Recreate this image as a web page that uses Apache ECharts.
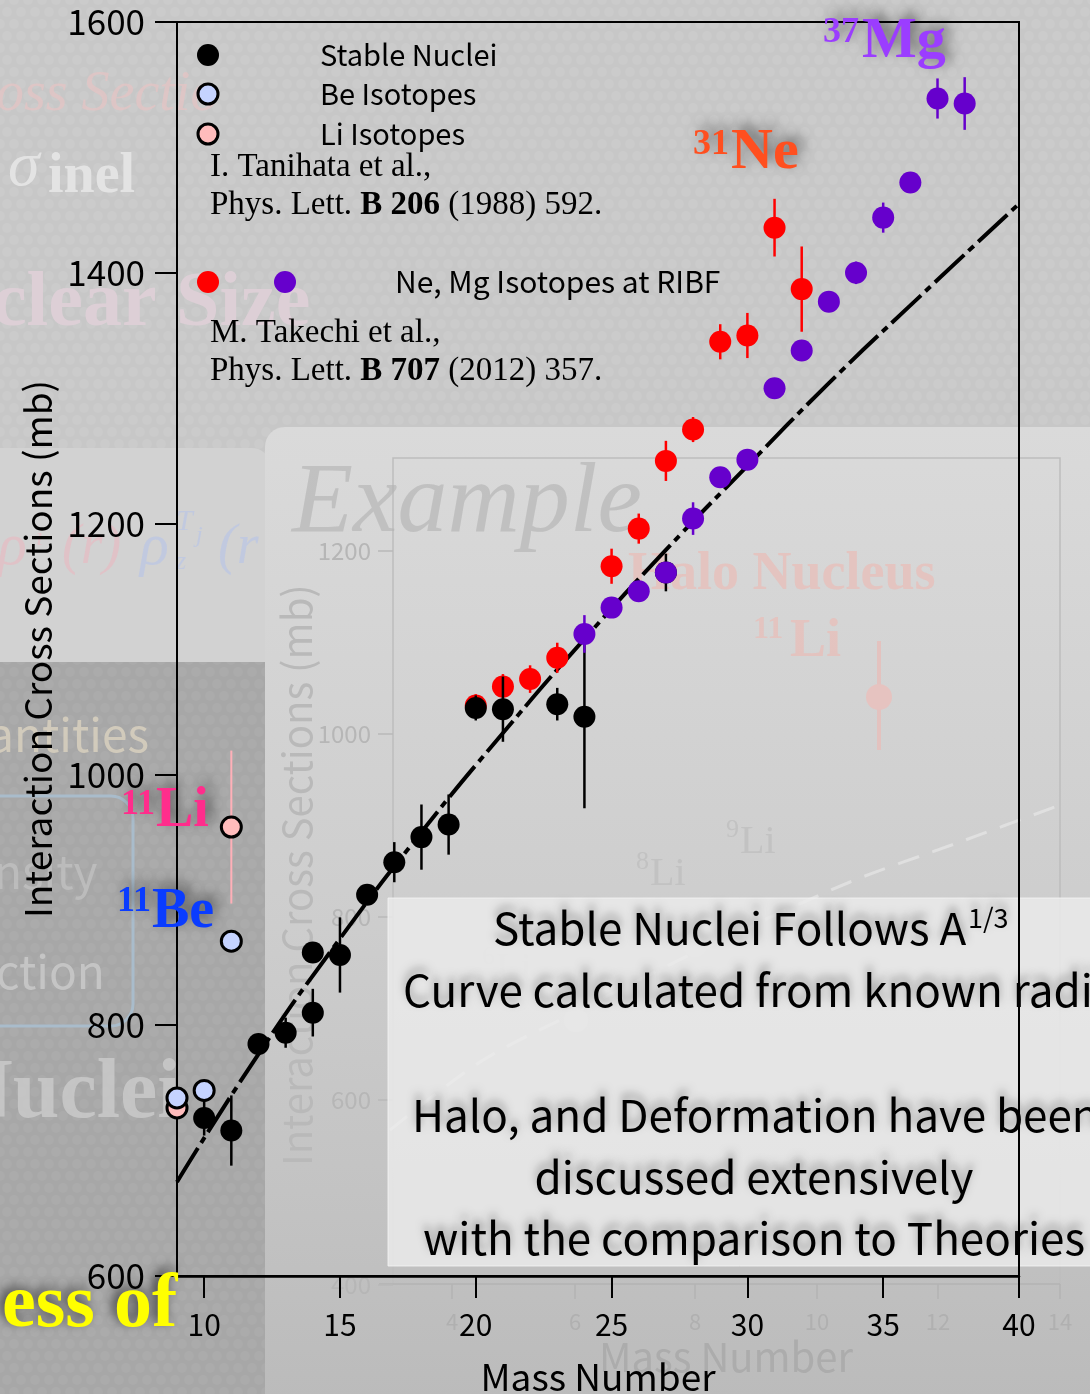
<!DOCTYPE html>
<html><head><meta charset="utf-8">
<script src="https://cdn.jsdelivr.net/npm/echarts@6/dist/echarts.min.js"></script>
<style>html,body{margin:0;padding:0;background:#c8c8c8}#c{width:1090px;height:1394px}</style>
</head><body><div id="c"></div>
<script>
// ---------- data ----------
const stableA = [10, 11, 12, 13, 14, 14, 15, 16, 17, 18, 19, 20, 21, 23, 24, 27];
const stableV = [726, 716, 785, 794, 810, 858, 856, 904, 930, 950, 960, 1053, 1052, 1056, 1046, 1161];
const stableE = [14, 28, 0, 12, 19, 8, 30, 0, 16, 26, 24, 10, 26, 13, 73, 15];
const beA = [9, 10, 11];
const beV = [742, 748, 867];
const liA = [9, 11];
const liV = [734, 958];
const liE = [0, 61];
const neA = [20, 21, 22, 23, 25, 26, 27, 28, 29, 30, 31, 32];
const neV = [1055, 1070, 1076, 1093, 1166, 1196, 1250, 1275, 1345, 1350, 1436, 1387];
const neE = [9, 10, 11, 12, 14, 12, 16, 10, 14, 18, 23, 34];
const mgA = [24, 25, 26, 27, 28, 29, 30, 31, 32, 33, 34, 35, 36, 37, 38];
const mgV = [1112, 1133, 1146, 1161, 1204, 1237, 1251, 1308, 1338, 1377, 1400, 1444, 1472, 1539, 1535];
const mgE = [15, 0, 0, 0, 13, 0, 7, 0, 0, 0, 9, 12, 0, 16, 21];
const curveA = [9, 12, 15, 18, 21, 24, 27, 30, 33, 36, 40];
const curveV = [675, 777, 869, 954, 1033, 1108, 1179, 1246, 1312, 1374, 1455];
const xTickLabels = [10, 15, 20, 25, 30, 35, 40];
const yTickLabels = [600, 800, 1000, 1200, 1400, 1600];

const SANS = "'Noto Sans CJK JP', 'Noto Sans', sans-serif";
const SERIF = "'Liberation Serif', 'DejaVu Serif', serif";

function pat(bg, dot) {
  const c = document.createElement('canvas'); c.width = 14; c.height = 24;
  const g = c.getContext('2d'); g.fillStyle = bg; g.fillRect(0, 0, 14, 24);
  g.fillStyle = dot;
  [[0,0],[14,0],[7,12],[0,24],[14,24]].forEach(([x,y]) => { g.beginPath(); g.arc(x, y, 5, 0, Math.PI*2); g.fill(); });
  return c;
}

function errSeries(A, V, E, color, w, z) {
  const data = [];
  A.forEach((a, i) => { if (E[i] > 0) data.push([a, V[i] - E[i], V[i] + E[i]]); });
  return {
    type: 'custom', z: z, silent: true, data: data, encode: { x: 0, y: [1, 2] },
    renderItem: function (params, api) {
      const p1 = api.coord([api.value(0), api.value(1)]);
      const p2 = api.coord([api.value(0), api.value(2)]);
      return { type: 'line', shape: { x1: p1[0], y1: p1[1], x2: p2[0], y2: p2[1] }, style: { stroke: color, lineWidth: w } };
    }
  };
}
function sc(A, V, size, color, border, z) {
  return {
    type: 'scatter', z: z, silent: true, data: A.map((a, i) => [a, V[i]]), symbolSize: size,
    itemStyle: { color: color, borderColor: border || color, borderWidth: border ? 3 : 0, opacity: 1 },
    emphasis: { disabled: true }
  };
}
function T(x, y, text, font, color, extra) {
  return Object.assign({ type: 'text', z: 50, silent: true,
    style: Object.assign({ x: x, y: y, text: text, font: font, fill: color, verticalAlign: 'middle', align: 'left' }, extra || {}) });
}
const shadow = { textShadowColor: 'rgba(0,0,0,0.55)', textShadowBlur: 14, textShadowOffsetX: 5, textShadowOffsetY: -5 };
const boxShadow = { textShadowColor: 'rgba(0,0,0,0.35)', textShadowBlur: 8, textShadowOffsetX: 0, textShadowOffsetY: -6 };

const bgEls = [
  { type: 'rect', z: -20, silent: true, shape: { x: 0, y: 0, width: 1090, height: 1394 }, style: { fill: { image: pat('#c7c7c7', '#cbcbcb'), repeat: 'repeat' } } },
  { type: 'rect', z: -19, silent: true, shape: { x: -20, y: 448, width: 290, height: 214, r: [0, 18, 0, 0] }, style: { fill: '#d2d2d2' } },
  { type: 'rect', z: -19, silent: true, shape: { x: 0, y: 662, width: 266, height: 732 }, style: { fill: { image: pat('#a7a7a7', '#ababab'), repeat: 'repeat' } } },
  { type: 'rect', z: -18, silent: true, shape: { x: 265, y: 427, width: 860, height: 1000, r: [20, 0, 0, 0] },
    style: { fill: new echarts.graphic.LinearGradient(0, 0, 0, 1, [{ offset: 0, color: '#dadada' }, { offset: 0.5, color: '#cdcdcd' }, { offset: 1, color: '#bababa' }]) } },
  // inner faded chart frame
  { type: 'polyline', z: -17, silent: true, shape: { points: [[393, 1285], [393, 458], [1060, 458], [1060, 1285]] }, style: { stroke: '#bdbdbd', lineWidth: 1.5, fill: null } },
  { type: 'line', z: -17, silent: true, shape: { x1: 379, y1: 1284, x2: 1060, y2: 1284 }, style: { stroke: '#b3b3b3', lineWidth: 1.5 } },
  // blue rounded outline on left
  { type: 'rect', z: -17, silent: true, shape: { x: -40, y: 796, width: 173, height: 230, r: 22 }, style: { fill: null, stroke: '#a9bccb', lineWidth: 3 } },
  // faded dashed curve of the inner chart
  { type: 'polyline', z: -16, silent: true, shape: { points: [[390, 1130], [480, 1062], [576, 1012], [700, 950], [850, 882], [960, 842], [1060, 805]], smooth: 0.3 },
    style: { stroke: 'rgba(225,225,225,0.9)', lineWidth: 3, lineDash: [22, 14], fill: null } },
  { type: 'circle', z: -16, silent: true, shape: { cx: 576, cy: 1020, r: 12 }, style: { fill: '#d2d2d2' } },
  { type: 'circle', z: -16, silent: true, shape: { cx: 695, cy: 945, r: 12 }, style: { fill: '#d2d2d2' } },
  { type: 'line', z: -16, silent: true, shape: { x1: 879, y1: 641, x2: 879, y2: 750 }, style: { stroke: '#e3c2bf', lineWidth: 4 } },
  { type: 'circle', z: -16, silent: true, shape: { cx: 879, cy: 697, r: 13 }, style: { fill: '#e6c3c0' } }
];
// inner faded ticks
[[551, '1200'], [734, '1000'], [917, '800'], [1100, '600'], [1285, '400']].forEach(([y, t]) => {
  bgEls.push({ type: 'line', z: -17, silent: true, shape: { x1: 378, y1: y, x2: 393, y2: y }, style: { stroke: '#b8b8b8', lineWidth: 1.5 } });
  bgEls.push({ type: 'text', z: -16, silent: true, style: { x: 371, y: y, text: t, font: '24px ' + SANS, fill: '#b6b6b6', align: 'right', verticalAlign: 'middle' } });
});
[[452, '4'], [575, '6'], [695, '8'], [817, '10'], [938, '12'], [1060, '14']].forEach(([x, t]) => {
  bgEls.push({ type: 'line', z: -17, silent: true, shape: { x1: x, y1: 1284, x2: x, y2: 1299 }, style: { stroke: '#b3b3b3', lineWidth: 1.5 } });
  bgEls.push({ type: 'text', z: -16, silent: true, style: { x: x, y: 1322, text: t, font: '22px ' + SANS, fill: '#b0b0b0', align: 'center', verticalAlign: 'middle' } });
});
const fadedText = [
  { type: 'text', z: -15, silent: true, rotation: Math.PI / 2, x: 297, y: 875, style: { x: 0, y: 0, text: 'Interaction Cross Sections (mb)', font: '40px ' + SANS, fill: '#b9b9b9', align: 'center', verticalAlign: 'middle' } },
  T(726, 1357, 'Mass Number', '40px ' + SANS, '#acacac', { align: 'center' }),
  T(292, 505, 'Example', 'italic 100px ' + SERIF, 'rgba(180,180,180,0.65)'),
  T(628, 575, 'Halo Nucleus', 'bold 54px ' + SERIF, 'rgba(232,190,184,0.75)'),
  T(753, 630, '11', 'bold 32px ' + SERIF, 'rgba(232,190,184,0.75)'),
  T(790, 642, 'Li', 'bold 54px ' + SERIF, 'rgba(232,190,184,0.75)'),
  T(726, 830, '9', '26px ' + SERIF, '#c2c2c2'), T(740, 842, 'Li', '40px ' + SERIF, '#c2c2c2'),
  T(636, 862, '8', '26px ' + SERIF, '#c2c2c2'), T(650, 874, 'Li', '40px ' + SERIF, '#c2c2c2'),
  T(482, 957, '6', '26px ' + SERIF, '#c6c6c6'), T(496, 969, 'Li', '40px ' + SERIF, '#c6c6c6'),
  // left-hand faded slide texts
  T(-4, 95, 'oss Sectio', 'italic 56px ' + SERIF, 'rgba(226,196,196,0.8)'),
  T(8, 168, 'σ', 'italic 64px ' + SERIF, 'rgba(232,232,232,0.85)'),
  T(48, 178, 'inel', 'bold 56px ' + SERIF, 'rgba(232,232,232,0.85)'),
  T(-8, 305, 'clear Size', 'bold 78px ' + SERIF, 'rgba(224,208,216,0.85)'),
  T(-2, 548, 'ρ', 'italic 60px ' + SERIF, 'rgba(228,190,196,0.8)'),
  T(36, 538, 'i', 'italic 26px ' + SERIF, 'rgba(228,190,196,0.8)'),
  T(62, 548, '(r)', 'italic 56px ' + SERIF, 'rgba(228,190,196,0.8)'),
  T(140, 548, 'ρ', 'italic 60px ' + SERIF, 'rgba(190,200,226,0.85)'),
  T(176, 522, 'T', 'italic 30px ' + SERIF, 'rgba(190,200,226,0.85)'),
  T(176, 562, 'z', 'italic 26px ' + SERIF, 'rgba(190,200,226,0.85)'),
  T(196, 536, 'j', 'italic 24px ' + SERIF, 'rgba(190,200,226,0.85)'),
  T(218, 548, '(r', 'italic 56px ' + SERIF, 'rgba(190,200,226,0.85)'),
  T(-12, 735, 'antities', '46px ' + SANS, 'rgba(216,208,190,0.85)'),
  T(-6, 872, 'nsity', '46px ' + SANS, 'rgba(190,190,190,0.9)'),
  T(-4, 972, 'ction', '46px ' + SANS, 'rgba(200,200,200,0.9)'),
  T(-48, 1095, 'Nuclei', 'bold 84px ' + SERIF, 'rgba(200,200,200,0.9)')
];
fadedText.forEach(e => { if (e.z === 50) e.z = -15; });

const BOXF = '44px ' + SANS;
const boxEls = [
  { type: 'rect', z: -12, silent: true, shape: { x: 388, y: 898, width: 720, height: 368 }, style: { fill: 'rgba(236,236,236,0.82)', stroke: 'rgba(245,245,245,0.8)', lineWidth: 1 } },
  T(493, 928, 'Stable Nuclei Follows A', BOXF, '#000', boxShadow),
  T(968, 918, '1/3', '27px ' + SANS, '#000', boxShadow),
  T(403, 990, 'Curve calculated from known radii', BOXF, '#000', boxShadow),
  T(412, 1115, 'Halo, and Deformation have been', BOXF, '#000', boxShadow),
  T(754, 1177, 'discussed extensively', BOXF, '#000', Object.assign({ align: 'center' }, boxShadow)),
  T(423, 1238, 'with the comparison to Theories', BOXF, '#000', boxShadow)
];
boxEls.forEach(e => { if (e.z === 50) e.z = -11; });

const CIT = '33px ' + SERIF;
const legendEls = [
  { type: 'circle', z: 40, silent: true, shape: { cx: 208, cy: 55, r: 11 }, style: { fill: '#000' } },
  { type: 'circle', z: 40, silent: true, shape: { cx: 208, cy: 94, r: 10 }, style: { fill: '#c5d3ff', stroke: '#000', lineWidth: 3 } },
  { type: 'circle', z: 40, silent: true, shape: { cx: 208, cy: 134, r: 10 }, style: { fill: '#ffbcbc', stroke: '#000', lineWidth: 3 } },
  { type: 'circle', z: 40, silent: true, shape: { cx: 208, cy: 282, r: 11 }, style: { fill: '#ff0000' } },
  { type: 'circle', z: 40, silent: true, shape: { cx: 285, cy: 282, r: 11 }, style: { fill: '#6600cc' } },
  T(320, 55, 'Stable Nuclei', '29px ' + SANS, '#000'),
  T(320, 94, 'Be Isotopes', '29px ' + SANS, '#000'),
  T(320, 134, 'Li Isotopes', '29px ' + SANS, '#000'),
  T(395, 282, 'Ne, Mg Isotopes at RIBF', '30px ' + SANS, '#000'),
  T(210, 167, 'I. Tanihata et al.,', CIT, '#000'),
  { type: 'text', z: 50, silent: true, style: { x: 210, y: 205, text: '{n|Phys. Lett. }{b|B 206}{n| (1988) 592.}', verticalAlign: 'middle',
      rich: { n: { font: CIT, fill: '#000' }, b: { font: 'bold ' + CIT, fill: '#000' } } } },
  T(210, 333, 'M. Takechi et al.,', CIT, '#000'),
  { type: 'text', z: 50, silent: true, style: { x: 210, y: 371, text: '{n|Phys. Lett. }{b|B 707}{n| (2012) 357.}', verticalAlign: 'middle',
      rich: { n: { font: CIT, fill: '#000' }, b: { font: 'bold ' + CIT, fill: '#000' } } } },
  // isotope labels
  T(823, 33, '37', 'bold 36px ' + SERIF, '#9b3dff', shadow),
  T(862, 42, 'Mg', 'bold 58px ' + SERIF, '#9b3dff', shadow),
  T(693, 145, '31', 'bold 36px ' + SERIF, '#ff4f1f', shadow),
  T(731, 153, 'Ne', 'bold 58px ' + SERIF, '#ff4f1f', shadow),
  T(121, 805, '11', 'bold 36px ' + SERIF, '#ff2d8c', shadow),
  T(156, 812, 'Li', 'bold 56px ' + SERIF, '#ff2d8c', shadow),
  T(117, 902, '11', 'bold 36px ' + SERIF, '#0a3cff', shadow),
  T(152, 913, 'Be', 'bold 56px ' + SERIF, '#0a3cff', shadow),
  T(2, 1306, 'ess of', 'bold 76px ' + SERIF, '#ffff00', { textShadowColor: 'rgba(0,0,0,0.6)', textShadowBlur: 12, textShadowOffsetX: -4, textShadowOffsetY: -4 })
];

const chart = echarts.init(document.getElementById('c'), null, { renderer: 'canvas' });
chart.setOption({
  animation: false,
  backgroundColor: 'transparent',
  grid: { left: 177, top: 22, right: 71, bottom: 118, outerBoundsMode: 'none', containLabel: false,
    show: true, borderColor: '#000', borderWidth: 2, backgroundColor: 'transparent' },
  xAxis: {
    type: 'value', min: 9, max: 40,
    name: 'Mass Number', nameLocation: 'middle', nameGap: 82,
    nameTextStyle: { fontFamily: SANS, fontSize: 37, color: '#000' },
    axisLine: { show: true, lineStyle: { color: '#000', width: 2.5 } },
    axisTick: { show: true, inside: false, length: 22, lineStyle: { color: '#000', width: 2 }, customValues: xTickLabels },
    axisLabel: { color: '#000', fontFamily: SANS, fontSize: 30, margin: 34, customValues: xTickLabels, formatter: v => String(v) },
    splitLine: { show: false }
  },
  yAxis: {
    type: 'value', min: 600, max: 1600, interval: 200,
    name: 'Interaction Cross Sections (mb)', nameLocation: 'middle', nameGap: 121,
    nameTextStyle: { fontFamily: SANS, fontSize: 37, color: '#000' },
    axisLine: { show: true, lineStyle: { color: '#000', width: 2 } },
    axisTick: { show: true, inside: false, length: 22, lineStyle: { color: '#000', width: 2 } },
    axisLabel: { color: '#000', fontFamily: SANS, fontSize: 35, margin: 32, customValues: yTickLabels, formatter: v => String(v) },
    splitLine: { show: false }
  },
  graphic: { elements: bgEls.concat(fadedText, boxEls, legendEls) },
  series: [
    { type: 'line', z: 1, silent: true, data: curveA.map((a, i) => [a, curveV[i]]), smooth: true, showSymbol: false, symbol: 'none',
      lineStyle: { color: '#000', width: 4, type: [40, 6, 7, 6] } },
    errSeries(neA, neV, neE, '#ff0000', 2.5, 2),
    sc(neA, neV, 22, '#ff0000', null, 3),
    errSeries(stableA, stableV, stableE, '#000', 2.5, 4),
    sc(stableA, stableV, 22, '#000', null, 5),
    errSeries(mgA, mgV, mgE, '#6600cc', 2.5, 6),
    sc(mgA, mgV, 22, '#6600cc', null, 7),
    errSeries(liA, liV, liE, '#ffb0b8', 2, 8),
    sc(liA, liV, 20, '#ffbcbc', '#000', 9),
    sc(beA, beV, 20, '#c5d3ff', '#000', 10)
  ]
});
</script>
</body></html>
